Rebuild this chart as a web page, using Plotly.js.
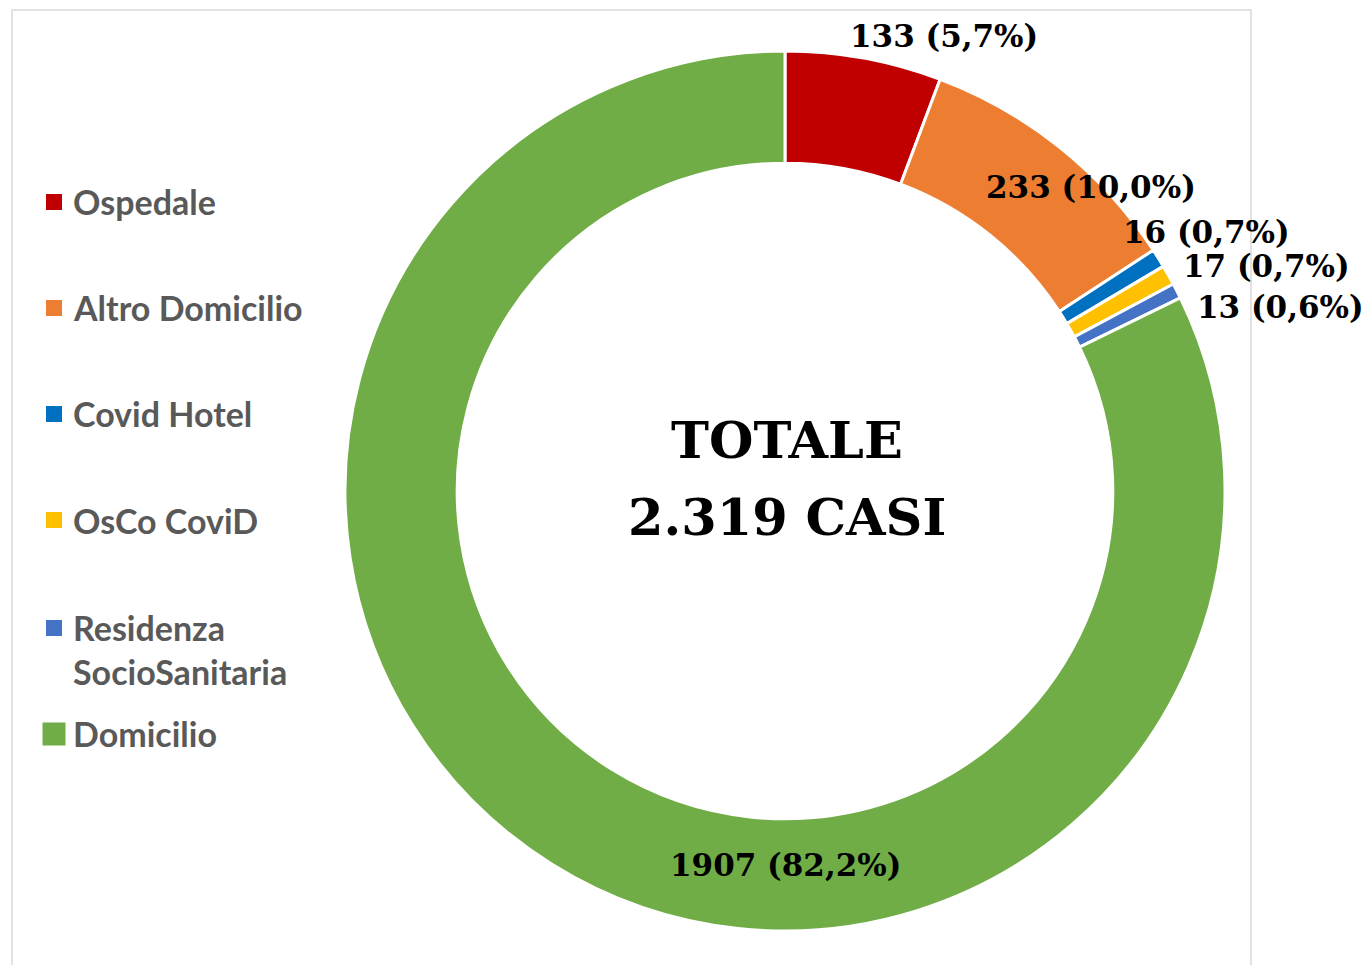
<!DOCTYPE html>
<html>
<head>
<meta charset="utf-8">
<script src="https://cdn.plot.ly/plotly-3.0.1.min.js"></script>
<style>
html,body{margin:0;padding:0;background:#fff;}
#chart{width:1368px;height:965px;}
</style>
</head>
<body>
<div id="chart"></div>
<script>
// ---- data ----
const categories = ['Ospedale', 'Altro Domicilio', 'Covid Hotel', 'OsCo CoviD', 'Residenza SocioSanitaria', 'Domicilio'];
const legendNames = ['Ospedale', 'Altro Domicilio', 'Covid Hotel', 'OsCo CoviD', 'Residenza<br>SocioSanitaria', 'Domicilio'];
const values = [133, 233, 16, 17, 13, 1907];
const colors = ['#C00000', '#ED7D31', '#0070C0', '#FFC000', '#4472C4', '#70AD47'];

// ---- layout helpers (pixel -> paper) ----
const W = 1368, H = 965;
const px = x => x / W;
const py = y => 1 - y / H;

const cx = 785, cy = 491, R = 440;

const total = values.reduce((a, b) => a + b, 0);
const fmtPct = v => (v / total * 100).toFixed(1).replace('.', ',') + '%';
const fmtThousands = n => String(n).replace(/\B(?=(\d{3})+(?!\d))/g, '.');

// data label positions (pixel centers)
const labelPos = [[944, 36], [1091, 187], [1206, 232], [1266, 266], [1280, 307], [785, 865]];
// legend item positions (pixel center y of text)
const legendY = [202, 308, 414, 520, 649, 733];
const legendMarkY = [202, 308, 414, 520, 628, 734];
const legendMarkSize = [16, 16, 16, 16, 16, 23];

const trace = {
  type: 'pie',
  labels: categories,
  values: values,
  marker: {colors: colors, line: {color: '#FFFFFF', width: 3}},
  hole: 0.745,
  sort: false,
  direction: 'clockwise',
  rotation: 0,
  textinfo: 'none',
  hoverinfo: 'label+value+percent',
  showlegend: false,
  domain: {x: [px(cx - R), px(cx + R)], y: [py(cy + R), py(cy - R)]}
};

const annotations = [];
const shapes = [];

// frame
shapes.push({type: 'rect', xref: 'paper', yref: 'paper', x0: px(12), x1: px(1251), y0: py(990), y1: py(10),
  line: {color: '#D9D9D9', width: 1.5}, fillcolor: 'rgba(0,0,0,0)', layer: 'below'});

// data labels
values.forEach((v, i) => {
  annotations.push({
    xref: 'paper', yref: 'paper', x: px(labelPos[i][0]), y: py(labelPos[i][1]),
    xanchor: 'center', yanchor: 'middle', showarrow: false,
    text: '<b>' + v + ' (' + fmtPct(v) + ')</b>',
    font: {family: 'DejaVu Serif, serif', size: 31, color: '#000000'}
  });
});

// center text (two lines)
annotations.push({
  xref: 'paper', yref: 'paper', x: px(cx + 2), y: py(440), xanchor: 'center', yanchor: 'middle', showarrow: false,
  text: '<b>TOTALE</b>',
  font: {family: 'DejaVu Serif, serif', size: 51, color: '#000000'}
});
annotations.push({
  xref: 'paper', yref: 'paper', x: px(cx + 2), y: py(517), xanchor: 'center', yanchor: 'middle', showarrow: false,
  text: '<b>' + fmtThousands(total) + ' CASI</b>',
  font: {family: 'DejaVu Serif, serif', size: 51, color: '#000000'}
});

// legend
categories.forEach((c, i) => {
  const s = legendMarkSize[i] / 2;
  const mx = 54;
  shapes.push({type: 'rect', xref: 'paper', yref: 'paper',
    x0: px(mx - s), x1: px(mx + s), y0: py(legendMarkY[i] + s), y1: py(legendMarkY[i] - s),
    fillcolor: colors[i], line: {width: 0}});
  annotations.push({
    xref: 'paper', yref: 'paper', x: px(71), y: py(legendY[i]), xanchor: 'left', yanchor: 'middle',
    align: 'left', showarrow: false,
    text: '<b>' + legendNames[i] + '</b>',
    font: {family: 'Lato, sans-serif', size: 34, color: '#595959'}
  });
});

const layout = {
  width: W, height: H,
  margin: {l: 0, r: 0, t: 0, b: 0},
  paper_bgcolor: '#FFFFFF',
  showlegend: false,
  annotations: annotations,
  shapes: shapes
};

Plotly.newPlot('chart', [trace], layout, {displayModeBar: false, staticPlot: true});
</script>
</body>
</html>
